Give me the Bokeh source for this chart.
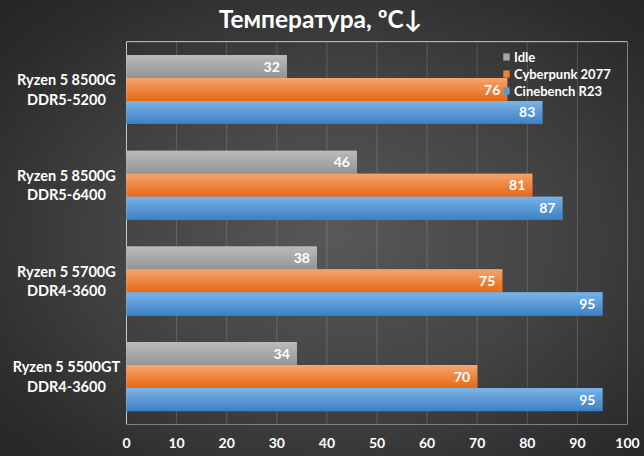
import numpy as np
from bokeh.plotting import figure
from bokeh.models import Range1d, Label, Legend, LegendItem, ColumnDataSource, FixedTicker
from bokeh.core.properties import value
from bokeh.embed import file_html
from bokeh.resources import INLINE

# ---- data ----
categories = ["Ryzen 5 8500G\nDDR5-5200", "Ryzen 5 8500G\nDDR5-6400",
              "Ryzen 5 5700G\nDDR4-3600", "Ryzen 5 5500GT\nDDR4-3600"]
series_names = ["Idle", "Cyberpunk 2077", "Cinebench R23"]
idle = [32, 46, 38, 34]
cyberpunk = [76, 81, 75, 70]
cinebench = [83, 87, 95, 95]
x_ticks = [0, 10, 20, 30, 40, 50, 60, 70, 80, 90, 100]
title_text = "Температура, ºC↓"

# ---- styling ----
FONT = "Lato"
tops = ["#bababa", "#f7a36c", "#7ab2e6"]
bottoms = ["#959595", "#e56a15", "#3e82c6"]
mids = ["#a6a6a6", "#ee8338", "#5b9bd5"]
bar_h = 0.24
N_STRIPS = 12

def hex2rgb(h):
    h = h.lstrip("#")
    return np.array([int(h[i:i + 2], 16) for i in (0, 2, 4)], dtype=float)

def rgb2hex(c):
    c = np.clip(np.round(c), 0, 255).astype(int)
    return "#%02x%02x%02x" % tuple(c)

n_cat = len(categories)
centers = [n_cat - 0.5 - i for i in range(n_cat)]
x_lo, x_hi = x_ticks[0], x_ticks[-1]

# the frame is extended left and up so the category labels and the title
# (drawn as text inside the frame) are not clipped
p = figure(width=644, height=456, output_backend="svg", toolbar_location=None,
           x_range=Range1d(x_lo - 25.15, x_hi), y_range=Range1d(0, n_cat + 0.43),
           border_fill_color=None, background_fill_color=None,
           min_border_left=0, min_border_right=17, min_border_top=0, min_border_bottom=32,
           styles={"background": "radial-gradient(ellipse at 52% 52%, #585858 0%, #444444 45%, #2b2b2b 85%, #252525 100%)"})

# plot box: vertical grid lines and outline
p.segment(x0=x_ticks, y0=[0] * len(x_ticks), x1=x_ticks, y1=[n_cat] * len(x_ticks),
          line_color="#ffffff", line_alpha=0.16, line_width=1)
p.quad(left=[x_lo], right=[x_hi], bottom=[0], top=[n_cat], fill_color=None,
       line_color="#c8c8c8", line_width=1)

values_all = [idle, cyberpunk, cinebench]
offsets = [bar_h, 0.0, -bar_h]
legend_items = []
for s, (vals, off) in enumerate(zip(values_all, offsets)):
    ys = [c + off for c in centers]
    src = ColumnDataSource(dict(y=ys, right=vals, label=[str(v) for v in vals]))
    base = p.hbar(y="y", right="right", left=0, height=bar_h, source=src,
                  fill_color=mids[s], line_color=None)
    legend_items.append(LegendItem(label=series_names[s], renderers=[base]))
    t, b = hex2rgb(tops[s]), hex2rgb(bottoms[s])
    sh = bar_h / N_STRIPS
    for k in range(N_STRIPS):
        col = rgb2hex(t + (b - t) * k / (N_STRIPS - 1))
        ys_k = [y + bar_h / 2 - (k + 0.5) * sh for y in ys]
        p.hbar(y=ys_k, right=vals, left=0, height=sh * 1.08,
               fill_color=col, line_color=None)
    p.text(x="right", y="y", text="label", source=src,
           x_offset=-7, text_align="right", text_baseline="middle",
           text_color="white", text_font=value(FONT), text_font_style="bold",
           text_font_size="14px")

# category labels left of the box
cat_src = ColumnDataSource(dict(x=[x_lo - 12.0] * n_cat, y=centers, text=categories))
p.text(x="x", y="y", text="text", source=cat_src, text_align="center",
       text_baseline="middle", text_color="white", text_font=value(FONT),
       text_font_style="bold", text_font_size="14.5px", text_line_height=1.15)

# title
p.add_layout(Label(x=38.7, y=n_cat + 0.245, text=title_text, text_align="center",
                   text_baseline="middle", text_color="white", text_font=FONT,
                   text_font_style="bold", text_font_size="24.5px"))

legend = Legend(items=legend_items, location=(502, 325),
                background_fill_alpha=0, border_line_color=None,
                label_text_color="white", label_text_font=FONT,
                label_text_font_style="bold", label_text_font_size="13px",
                glyph_width=8, glyph_height=9, label_standoff=4,
                label_height=17, spacing=0, padding=4, margin=0)
p.add_layout(legend)

p.yaxis.visible = False
p.xaxis.ticker = FixedTicker(ticks=x_ticks)
p.xaxis.axis_line_color = None
p.xaxis.major_tick_line_color = None
p.xaxis.minor_tick_line_color = None
p.xaxis.major_label_text_color = "white"
p.xaxis.major_label_text_font = FONT
p.xaxis.major_label_text_font_style = "bold"
p.xaxis.major_label_text_font_size = "14px"
p.xaxis.major_label_standoff = 7
p.xgrid.grid_line_color = None
p.ygrid.grid_line_color = None
p.outline_line_color = None

open("out.html", "w").write(file_html(p, INLINE))
